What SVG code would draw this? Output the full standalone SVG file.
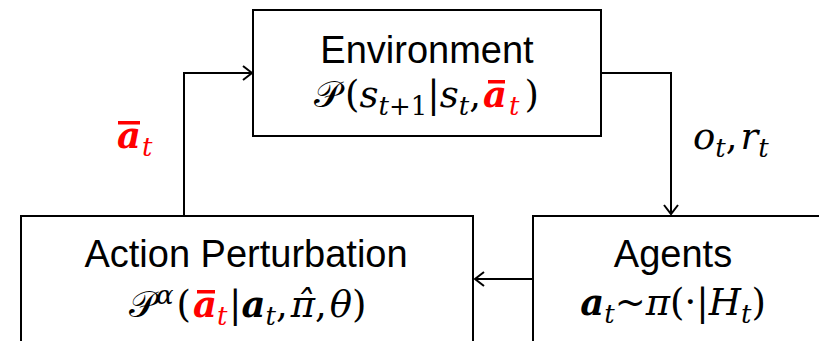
<svg xmlns="http://www.w3.org/2000/svg" width="819" height="341" viewBox="0 0 819 341">
<defs>
<style>
.box{fill:#fff;stroke:#000;stroke-width:2}
.con{fill:none;stroke:#000;stroke-width:2}
.bar{fill:#f00}
.lbl{font-family:"Liberation Sans",Arial,sans-serif;font-size:38px;fill:#000}
.m{font-family:"DejaVu Serif","Liberation Serif",serif;font-style:italic;font-size:37px;fill:#000}
.up{font-style:normal}
.b{font-weight:bold}
.red{fill:#f00}
.sub{font-size:26px}
</style>
<marker id="ah" markerWidth="12" markerHeight="18" refX="10" refY="8" orient="auto" markerUnits="userSpaceOnUse">
<path d="M1,1 L10,8 L1,15" fill="none" stroke="#000" stroke-width="2"/>
</marker>
</defs>
<g id="connectors">
<path class="con" d="M601,73 H671 V214" marker-end="url(#ah)"/>
<path class="con" d="M533,279 H475" marker-end="url(#ah)"/>
<path class="con" d="M184,216 V73 H252" marker-end="url(#ah)"/>
</g>
<g id="environment">
<rect class="box" x="253" y="10" width="348" height="126"/>
<text class="lbl" x="427" y="63" text-anchor="middle">Environment</text>
<text class="m" x="481" y="107" text-anchor="end"><tspan class="up">𝒫</tspan><tspan class="up" dx="4">(</tspan>s<tspan class="sub" dy="8">t</tspan><tspan class="sub up">+1</tspan><tspan class="up" dy="-8">|</tspan>s<tspan class="sub" dy="8">t</tspan><tspan class="up" dy="-8">,</tspan></text>
<text class="m b red" x="495" y="107" text-anchor="middle">a</text>
<rect class="bar" x="488" y="80" width="17" height="3.5"/>
<text class="m sub red" x="509" y="115">t</text>
<text class="m up" x="539" y="107" text-anchor="end">)</text>
</g>
<g id="agents">
<rect class="box" x="533" y="216" width="290" height="140"/>
<text class="lbl" x="673" y="267" text-anchor="middle">Agents</text>
<text class="m" x="673" y="315" text-anchor="middle"><tspan class="b">a</tspan><tspan class="sub" dy="8">t</tspan><tspan class="up" dy="-8">~</tspan>π<tspan class="up">(·|</tspan>H<tspan class="sub" dy="8">t</tspan><tspan class="up" dy="-8">)</tspan></text>
</g>
<g id="action-perturbation">
<rect class="box" x="21" y="216" width="452" height="140"/>
<text class="lbl" x="246" y="267" text-anchor="middle">Action Perturbation</text>
<text class="m" x="191" y="317" text-anchor="end"><tspan class="up">𝒫</tspan><tspan class="sub" dy="-13">α</tspan><tspan class="up" dy="13" dx="3">(</tspan></text>
<text class="m b red" x="205" y="317" text-anchor="middle">a</text>
<rect class="bar" x="197" y="290" width="18" height="3.5"/>
<text class="m sub red" x="217" y="325">t</text>
<text class="m" x="229" y="317"><tspan class="up">|</tspan><tspan class="b">a</tspan><tspan class="sub" dy="8">t</tspan><tspan class="up" dy="-8">,</tspan><tspan dx="3">π̂</tspan><tspan class="up">,</tspan><tspan dx="3">θ</tspan><tspan class="up">)</tspan></text>
</g>
<g id="labels">
<text class="m b red" x="129" y="148" text-anchor="middle">a</text>
<rect class="bar" x="118" y="121" width="22" height="3.5"/>
<text class="m sub red" x="142" y="156">t</text>
<text class="m" x="693" y="149">o<tspan class="sub" dy="8">t</tspan><tspan class="up" dy="-8">,</tspan><tspan dx="3">r</tspan><tspan class="sub" dy="8">t</tspan></text>
</g>
</svg>
